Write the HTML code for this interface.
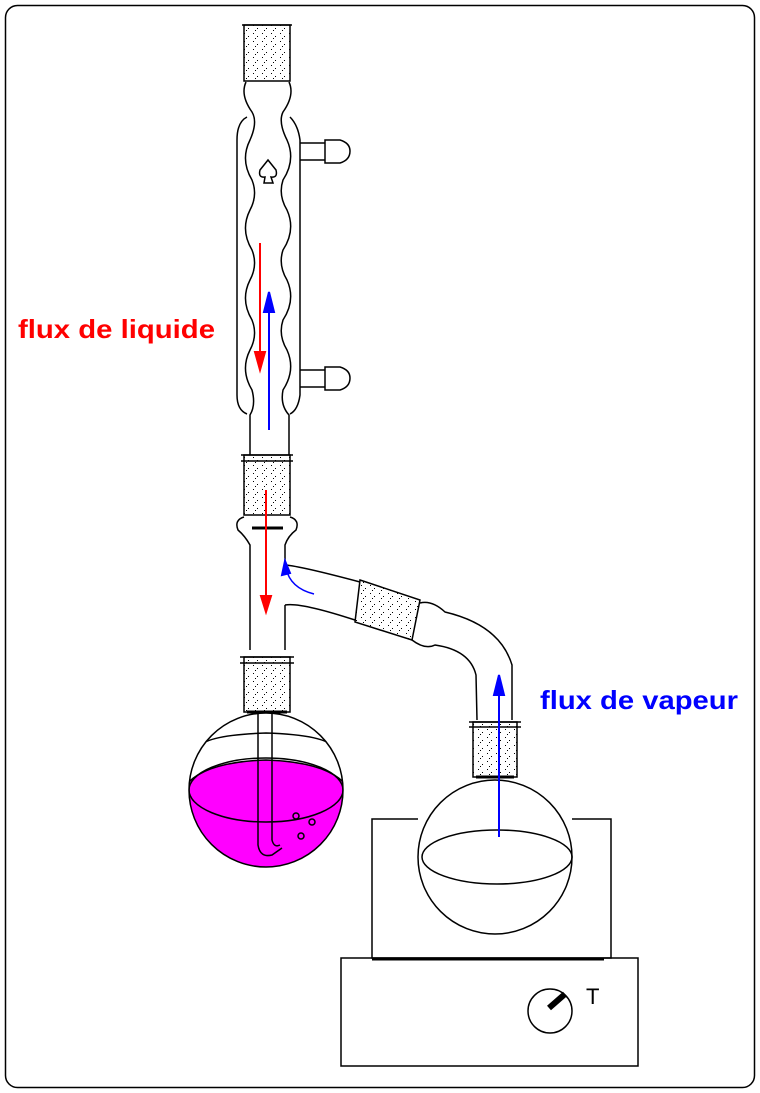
<!DOCTYPE html>
<html><head><meta charset="utf-8"><style>
html,body{margin:0;padding:0;background:#fff}
svg{display:block}
text{font-family:"Liberation Sans",Arial,sans-serif}
</style></head><body>
<svg width="760" height="1093" viewBox="0 0 760 1093">
<defs>
<pattern id="dots" width="9" height="8" patternUnits="userSpaceOnUse">
<rect width="9" height="8" fill="#fff"/>
<rect x="1" y="1" width="1" height="1" fill="#000"/>
<rect x="5" y="4" width="1" height="1" fill="#000"/>
<rect x="3" y="6" width="1" height="1" fill="#000"/>
</pattern>
<clipPath id="fl"><circle cx="266" cy="790" r="77"/></clipPath>
</defs>
<rect x="5.5" y="5.5" width="749" height="1082" rx="12" fill="#fff" stroke="#000" stroke-width="1.5"/>
<g fill="none" stroke="#000" stroke-width="1.5">
<rect x="244" y="25" width="46" height="56" fill="url(#dots)"/>
<path d="M242 25 L292 25"/>
<path d="M247 117 Q237 122 237 140 L237 395 Q237 410 247 414"/>
<path d="M290 117 Q298 125 300 140 L300 395 Q298 410 290 414"/>
<path d="M300 143 L325 143 M300 160 L325 160 M300 370 L325 370 M300 387 L325 387"/>
<path d="M325 140 L340 140 Q350 143 350 151 Q350 160 340 163 L325 163 Z"/>
<path d="M325 367 L340 367 Q350 370 350 378 Q350 387 340 390 L325 390 Z"/>
<path d="M246 82 Q240 95 252 112 Q258 122 250 140 Q240 160 252 180 Q258 195 250 210 Q240 230 252 250 Q258 265 250 280 Q240 300 252 320 Q258 335 250 350 Q240 370 252 390 Q256 405 250 415 L250 455"/>
<path d="M289 82 Q295 95 283 112 Q278 122 287 140 Q296 160 283 180 Q278 195 287 210 Q296 230 283 250 Q278 265 287 280 Q296 300 283 320 Q278 335 287 350 Q296 370 283 390 Q280 405 289 415 L289 455"/>
<path d="M268 160 L260 170 Q258 178 265 177 L264 183 L273 183 L271 177 Q278 178 276 170 Z"/>
<rect x="244" y="455" width="46" height="60" fill="url(#dots)"/>
<path d="M241 455 L293 455 M241 461 L293 461"/>
<path d="M244 517 Q234 520 238 530 Q245 536 250 545 L250 650"/>
<path d="M290 517 Q300 520 296 530 Q288 536 285 545 L285 565 M285 605 L285 650"/>
<path d="M252 528 L283 528" stroke-width="3"/>
<path d="M285 565 Q300 566 360 582 M285 605 Q300 602 355 620"/>
<path d="M360 580 L420 600 L412 640 L355 622 Z" fill="url(#dots)"/>
<path d="M420 603 Q432 600 445 612 Q500 625 512 665 L512 720"/>
<path d="M412 640 Q425 650 435 645 Q470 650 476 675 L477 720"/>
<rect x="473" y="722" width="44" height="55" fill="url(#dots)"/>
<path d="M469 722 L521 722 M469 727 L521 727"/>
<path d="M476 777 L514 777" stroke-width="3"/>
<rect x="244" y="657" width="46" height="55" fill="url(#dots)"/>
<path d="M240 657 L294 657 M240 663 L294 663"/>
<path d="M247 712 L287 712" stroke-width="3"/>
</g>
<path clip-path="url(#fl)" d="M186 785 Q205 762 266 760 Q327 762 346 785 L346 880 L186 880 Z" fill="#f0f"/>
<g fill="none" stroke="#000" stroke-width="1.5">
<circle cx="266" cy="790" r="77"/>
<path clip-path="url(#fl)" d="M186 785 Q205 762 266 760 Q327 762 346 785"/>
<ellipse cx="266" cy="790" rx="77" ry="32" clip-path="url(#fl)"/>
<path d="M198 748 Q205 735 266 733 Q327 735 334 748" clip-path="url(#fl)"/>
<path d="M258 712 L258 845 Q260 858 272 855 L282 848 M272 712 L272 840 Q274 848 280 845"/>
<circle cx="296" cy="816" r="3"/><circle cx="312" cy="822" r="3"/><circle cx="301" cy="836" r="3"/>
<circle cx="495" cy="857" r="77" fill="#fff"/>
<ellipse cx="497" cy="857" rx="75" ry="27"/>
<path d="M418 819 L372 819 L372 958 L611 958 L611 819 L572 819"/>
<rect x="341" y="958" width="297" height="108"/>
<path d="M372 959 L604 959" stroke-width="3"/>
<circle cx="550" cy="1011" r="22"/>
</g>
<path d="M549 1008 L565 994" stroke="#000" stroke-width="6"/>
<text x="586" y="1004" font-size="22">T</text>
<g stroke="#f00" stroke-width="2" fill="#f00">
<path d="M260 243 L260 360"/><path d="M255 352 L265 352 L260 370 Z"/>
<path d="M266 490 L266 605"/><path d="M261 596 L271 596 L266 612 Z"/>
</g>
<g stroke="#00f" stroke-width="2" fill="#00f">
<path d="M269 430 L269 305"/><path d="M264 312 L274 312 L269 292 Z"/>
<path d="M499 837 L499 690"/><path d="M494 695 L504 695 L499 675 Z"/>
<path d="M314 594 Q290 588 286 568" fill="none" stroke-width="1.5"/><path d="M282 575 L290 573 L285 561 Z"/>
</g>
<text x="18" y="338" font-size="26" font-weight="bold" fill="#f00" textLength="197" lengthAdjust="spacingAndGlyphs">flux de liquide</text>
<text x="540" y="709" font-size="26" font-weight="bold" fill="#00f" textLength="198" lengthAdjust="spacingAndGlyphs">flux de vapeur</text>
</svg>
</body></html>
